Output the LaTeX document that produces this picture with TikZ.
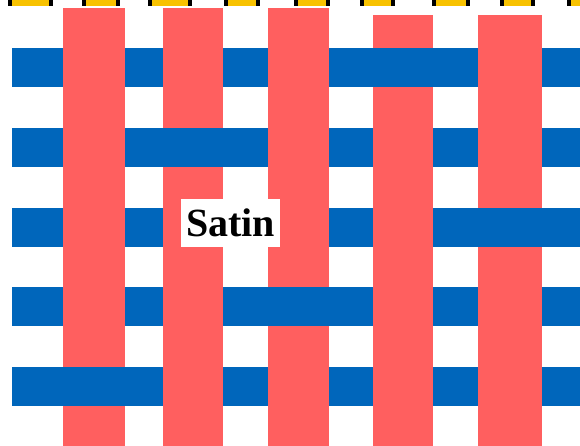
\documentclass[tikz,border=0pt]{standalone}
\usepackage{fontspec}
\setmainfont{Liberation Serif}
\definecolor{warp}{HTML}{FF5F5F}
\definecolor{weft}{HTML}{0066BB}
\definecolor{edgey}{HTML}{F8C200}
\tikzset{
  weftbar/.style={fill=weft,draw=none},
  warpbar/.style={fill=warp,draw=none},
  selv/.style={fill=edgey,draw=none},
  selvend/.style={fill=black,draw=none},
  tag/.style={fill=white,inner sep=0pt,minimum width=99pt,minimum height=48pt,font=\bfseries\fontsize{40}{40}\selectfont}
}
\begin{document}
\begin{tikzpicture}[x=1pt,y=-1pt]
\useasboundingbox (0,0) rectangle (580,446);
\fill[white] (0,0) rectangle (580,446);
% selvedge strip at top
\foreach \a/\b in {8/53,82/120,148/192,224/260,294/330,360/395,432/470,500/535,567/600}{
  \fill[selv] (\a,0) rectangle (\b,6);
  \fill[selvend] (\a,0) rectangle ({\a+4},6);
  \fill[selvend] ({\b-4},0) rectangle (\b,6);
}
% weft rows (under layer)
\foreach \y in {48,128,208,287,367}{
  \fill[weftbar] (12,\y) rectangle (580,{\y+39});
}
% warp bars
\fill[warpbar] (63,8) rectangle (125,446);
\fill[warpbar] (163,8) rectangle (223,446);
\fill[warpbar] (268,8) rectangle (329,446);
\fill[warpbar] (373,15) rectangle (433,446);
\fill[warpbar] (478,15) rectangle (542,446);
% weft floats over warp
\fill[weftbar] (329,48) rectangle (478,87);
\fill[weftbar] (125,128) rectangle (268,167);
\fill[weftbar] (433,208) rectangle (580,247);
\fill[weftbar] (223,287) rectangle (373,326);
\fill[weftbar] (12,367) rectangle (163,406);
% label
\node[tag] (satin) at (230.5,223) {Satin};
\end{tikzpicture}
\end{document}
